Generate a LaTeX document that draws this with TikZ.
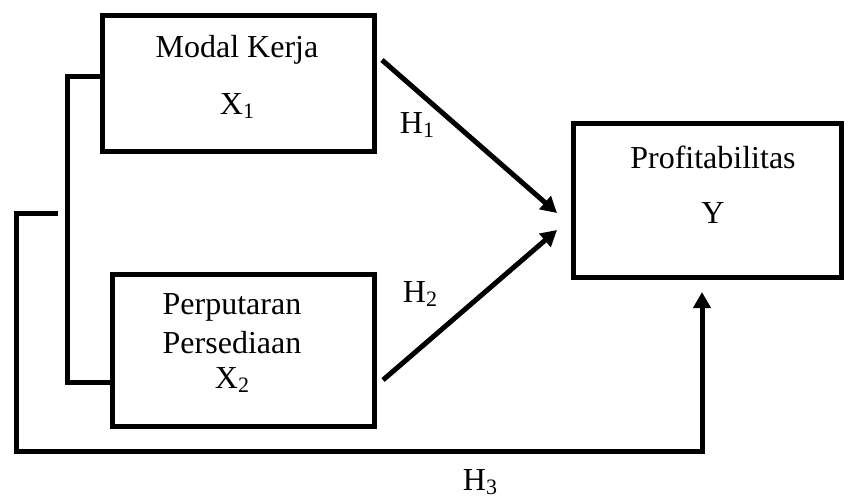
\documentclass[tikz,border=0pt]{standalone}
\usepackage{fontspec}
\setmainfont{Liberation Serif}
\usetikzlibrary{arrows.meta}
\newcommand{\sbx}[1]{\raisebox{-0.25ex}{\fontsize{11pt}{12pt}\selectfont #1}}
\tikzset{
  box/.style={draw, line width=2.5pt, minimum width=#1, inner sep=0pt},
  txt/.style={font=\fontsize{16pt}{19pt}\selectfont, inner sep=0pt, align=center},
  ln/.style={line width=2.5pt},
  arr/.style={line width=2.5pt, -{Triangle[length=8pt,width=8.5pt]}}
}
\begin{document}
\begin{tikzpicture}[x=0.5pt,y=-0.5pt]
\useasboundingbox (0,0) rectangle (848,500);
% boxes
\node[box=136pt, minimum height=68pt] (x1) at (238,83) {};
\node[box=131pt, minimum height=76pt] (x2) at (243,350) {};
\node[box=134pt, minimum height=77pt] (y) at (707,200) {};
% texts
\node[txt] (t1a) at (237,50) {Modal Kerja};
\node[txt] (t1b) at (237,106) {X\sbx{1}};
\node[txt] (t2a) at (232,307) {Perputaran};
\node[txt] (t2b) at (232,343) {Persediaan};
\node[txt] (t2c) at (232,380) {X\sbx{2}};
\node[txt] (tya) at (713,157) {Profitabilitas};
\node[txt] (tyb) at (713,213) {Y};
\node[txt] (h1) at (417,125) {H\sbx{1}};
\node[txt] (h2) at (420,294) {H\sbx{2}};
\node[txt] (h3) at (480,482) {H\sbx{3}};
% coordinates
\coordinate (a1s) at (382,60);
\coordinate (a1e) at (557,213);
\coordinate (a2s) at (383,380);
\coordinate (a2e) at (557,230);
\coordinate (b1) at (67,76);
\coordinate (b2) at (67,382);
\coordinate (o1) at (58,213);
\coordinate (o2) at (16,213);
\coordinate (o3) at (702,451);
\coordinate (o4) at (702,292);
% connectors
\draw[arr] (a1s) -- (a1e);
\draw[arr] (a2s) -- (a2e);
\draw[ln] (x1.west |- b1) -- (b1) -- (b2) -- (x2.west |- b2);
\draw[arr] (o1) -- (o2) |- (o3) -- (o4);
\end{tikzpicture}
\end{document}
